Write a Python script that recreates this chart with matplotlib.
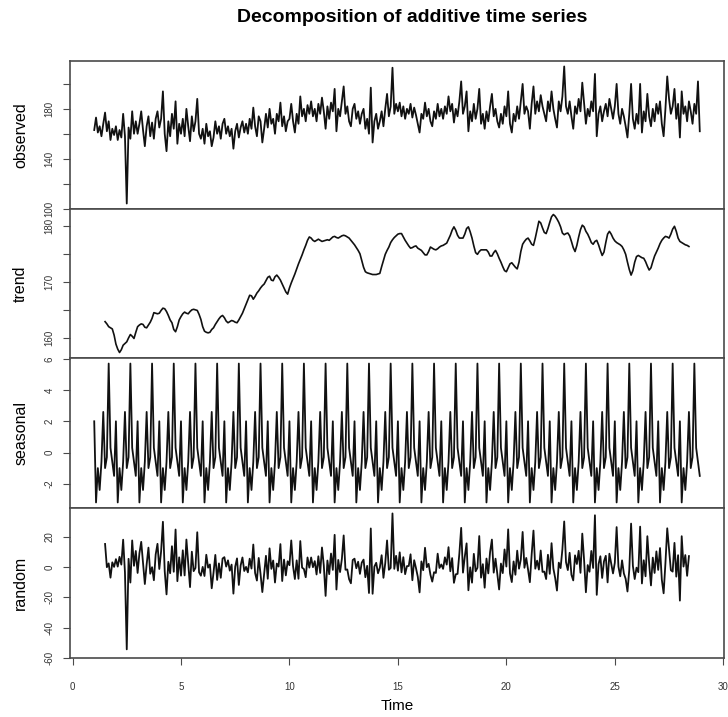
import numpy as np
import matplotlib
matplotlib.use("Agg")
import matplotlib.pyplot as plt

plt.rcParams['font.family'] = ['Liberation Sans', 'DejaVu Sans']

TITLE = "Decomposition of additive time series"
PANEL_NAMES = ["observed", "trend", "seasonal", "random"]
FREQ = 12
START = 1.0
TREND_OFFSET = 6

observed = [
    163, 173, 161, 166, 158, 168, 177, 162, 170, 155, 164, 159,
    166, 155, 163, 157, 176, 158, 104, 165, 156, 178, 160, 170,
    160, 168, 178, 163, 150, 166, 174, 158, 169, 156, 172, 178,
    165, 172, 194, 160, 146, 170, 158, 176, 164, 186, 152, 168,
    160, 172, 158, 180, 166, 154, 174, 162, 170, 188, 160, 156,
    164, 152, 168, 158, 162, 150, 157, 170, 160, 166, 156, 168,
    172, 160, 166, 158, 164, 148, 162, 168, 157, 165, 170, 161,
    168, 160, 172, 164, 181, 166, 158, 174, 170, 153, 164, 176,
    165, 180, 168, 172, 160, 176, 170, 185, 166, 174, 162, 170,
    172, 184, 170, 161, 176, 168, 190, 174, 180, 170, 183, 176,
    186, 174, 180, 170, 184, 176, 189, 178, 164, 182, 172, 185,
    178, 196, 162, 180, 174, 186, 198, 176, 182, 170, 166, 180,
    184, 172, 178, 168, 176, 180, 164, 172, 160, 197, 153, 170,
    176, 164, 170, 178, 166, 180, 192, 174, 182, 213, 176, 184,
    178, 185, 174, 182, 172, 180, 176, 184, 173, 181, 175, 168,
    161, 176, 172, 185, 174, 180, 170, 166, 178, 172, 184, 174,
    180, 172, 182, 176, 190, 178, 184, 169, 180, 174, 186, 202,
    176, 182, 194, 162, 178, 170, 184, 172, 180, 196, 168, 176,
    164, 178, 170, 182, 192, 174, 180, 170, 165, 176, 168, 182,
    174, 194, 168, 161, 176, 170, 182, 172, 186, 200, 176, 182,
    178, 164, 184, 198, 176, 186, 178, 191, 182, 176, 170, 186,
    178, 194, 180, 172, 165, 186, 178, 190, 214, 182, 176, 186,
    174, 164, 182, 176, 188, 178, 201, 184, 168, 180, 174, 186,
    178, 208, 158, 176, 182, 170, 178, 184, 174, 188, 180, 172,
    182, 200, 176, 168, 180, 174, 166, 157, 176, 200, 172, 164,
    176, 168, 200, 161, 178, 170, 192, 174, 166, 180, 170, 184,
    176, 186, 168, 158, 180, 206, 188, 176, 182, 196, 172, 184,
    157, 194, 176, 182, 170, 186, 178, 168, 184, 176, 202, 162,
]

trend = [
    162.9, 162.5, 162.0, 161.8, 161.6, 160.5,
    158.9, 158.0, 157.4, 157.9, 158.7, 159.0, 159.3, 160.0, 160.6, 160.3, 159.9, 161.0,
    162.0, 162.3, 162.5, 162.4, 161.9, 161.8, 162.3, 162.8, 163.5, 164.5, 164.4, 164.3,
    164.4, 164.9, 165.3, 165.2, 164.7, 164.0, 163.2, 162.7, 161.5, 161.1, 162.0, 163.2,
    163.8, 164.3, 164.6, 164.4, 164.3, 164.7, 165.0, 165.1, 165.0, 164.9, 164.2, 163.3,
    162.0, 161.2, 161.0, 160.9, 161.0, 161.5, 161.8, 162.4, 162.9, 163.4, 163.8, 164.0,
    163.6, 163.0, 162.7, 162.9, 163.1, 163.0, 162.8, 162.7, 163.2, 163.8, 164.4, 165.2,
    166.0, 166.8, 167.6, 167.5, 166.9, 167.4, 168.0, 168.4, 168.9, 169.3, 169.6, 170.2,
    170.8, 171.0, 170.3, 170.2, 170.9, 171.2, 170.8, 170.3, 169.6, 168.9, 168.2, 167.8,
    168.9, 169.8, 170.6, 171.4, 172.3, 173.2, 174.0, 174.8, 175.7, 176.5, 177.4, 178.0,
    177.8, 177.4, 177.2, 177.4, 177.6, 177.4, 177.2, 177.3, 177.4, 177.5, 177.4, 177.7,
    178.0, 178.1, 177.9, 177.8, 178.0, 178.2, 178.3, 178.2, 178.0, 177.8, 177.4, 177.0,
    176.6, 176.1, 175.6, 175.0, 173.8, 172.6, 171.8, 171.6, 171.5, 171.4, 171.3, 171.3,
    171.3, 171.4, 171.5, 172.7, 173.8, 174.9, 175.6, 176.2, 177.0, 177.5, 177.9, 178.2,
    178.5, 178.6, 178.6, 178.0, 177.4, 176.9, 176.4, 176.0, 176.1, 176.3, 176.4, 176.0,
    175.8, 175.6, 175.2, 174.8, 174.8, 175.4, 176.2, 176.0, 175.8, 175.7, 175.9, 176.2,
    176.4, 176.5, 176.7, 176.9, 177.6, 178.3, 179.2, 179.8, 179.2, 178.3, 177.8, 177.8,
    177.8, 178.5, 179.5, 179.8, 178.9, 177.8, 176.4, 175.2, 174.9, 175.4, 175.7, 175.7,
    175.7, 175.7, 175.3, 174.6, 174.6, 175.2, 175.6, 175.0, 174.2, 173.5, 172.7, 172.0,
    171.8, 172.5, 173.2, 173.4, 173.0, 172.6, 172.3, 173.5, 175.4, 176.7, 177.2, 177.6,
    177.8, 177.3, 176.7, 176.5, 177.8, 179.3, 180.8, 180.5, 179.6, 178.8, 178.6, 179.5,
    180.6, 181.6, 182.0, 181.7, 181.2, 180.6, 179.8, 178.7, 178.4, 178.6, 178.7, 178.2,
    177.2, 176.1, 175.4, 176.5, 178.0, 179.3, 180.1, 179.8, 179.0, 178.5, 177.8, 177.0,
    176.7, 177.2, 177.4, 176.6, 175.6, 174.7, 175.3, 177.0, 178.5, 179.0, 178.5, 177.8,
    177.3, 177.0, 176.8, 176.6, 176.3, 175.7, 174.9, 173.5, 172.2, 171.2, 172.0, 173.5,
    174.5, 174.7, 174.5, 174.3, 174.2, 173.6, 172.8, 172.1, 172.5, 173.6, 174.6, 175.3,
    176.0, 176.8, 177.4, 177.8, 178.1, 178.0, 177.8, 178.5, 179.4, 179.9, 179.0, 177.8,
    177.2, 177.0, 176.8, 176.6, 176.5, 176.3,
]

# one seasonal cycle (cycle position 0..11)
seasonal_figure = [2.0, -3.2, -1.0, -2.4, -0.6, 2.6, -1.0, -0.3, 5.7, 0.3, -0.6, -1.5]

obs_ticks = [100, 120, 140, 160, 180, 200]
obs_labels = ["100", "", "140", "", "180", ""]
trend_ticks = [160, 165, 170, 175, 180]
trend_labels = ["160", "", "170", "", "180"]
seas_ticks = [-2, 0, 2, 4, 6]
seas_labels = ["-2", "0", "2", "4", "6"]
rand_ticks = [-60, -40, -20, 0, 20]
rand_labels = ["-60", "-40", "-20", "0", "20"]
x_ticks = [0, 5, 10, 15, 20, 25, 30]

# ---- assemble the decomposition ----
obs = np.array(observed, dtype=float)
n = len(obs)
time = START + np.arange(n) / FREQ
tr = np.full(n, np.nan)
tr[TREND_OFFSET:TREND_OFFSET + len(trend)] = trend
seas = np.array(seasonal_figure)[np.arange(n) % FREQ]
rand = obs - tr - seas
series = [obs, tr, seas, rand]
ticks = [(obs_ticks, obs_labels), (trend_ticks, trend_labels),
         (seas_ticks, seas_labels), (rand_ticks, rand_labels)]
widths = [1.3, 1.2, 1.3, 1.3]

W, H = 728, 717
fig = plt.figure(figsize=(W / 100, H / 100), dpi=100)
left_px, right_px = 70, 724
edges = [61, 209, 358, 508, 658]

span = time[-1] - time[0]
xlim = (time[0] - 0.04 * span, time[-1] + 0.04 * span)

frame_col = "#4a4a4a"
for i in range(4):
    top, bot = edges[i], edges[i + 1]
    ax = fig.add_axes([left_px / W, 1 - bot / H, (right_px - left_px) / W, (bot - top) / H])
    y = series[i]
    ax.plot(time, y, color="#111111", lw=widths[i])
    lo, hi = np.nanmin(y), np.nanmax(y)
    pad = 0.04 * (hi - lo)
    ax.set_ylim(lo - pad, hi + pad)
    ax.set_xlim(*xlim)
    tk, lb = ticks[i]
    ax.set_yticks(tk)
    ax.set_yticklabels(lb, rotation=90, va="center", fontsize=7, color="#333333")
    ax.tick_params(axis="y", direction="out", length=5, width=0.8, pad=6, colors=frame_col,
                   labelcolor="#333333")
    ax.set_ylabel(PANEL_NAMES[i], fontsize=11.5)
    ax.yaxis.set_label_coords(-0.064, 0.5)
    for s in ax.spines.values():
        s.set_color(frame_col)
        s.set_linewidth(1.2)
    if i < 3:
        ax.set_xticks([])
    else:
        ax.set_xticks(x_ticks)
        ax.set_xticklabels([str(v) for v in x_ticks], fontsize=7, color="#333333")
        ax.tick_params(axis="x", direction="out", length=5, width=0.8, pad=12, colors=frame_col,
                       labelcolor="#333333")
        ax.set_xlabel("Time", fontsize=11, labelpad=5)

fig.text(412 / W, 1 - 17 / H, TITLE, ha="center", va="center", fontsize=14, fontweight="bold")

fig.savefig("out.png", dpi=100)
